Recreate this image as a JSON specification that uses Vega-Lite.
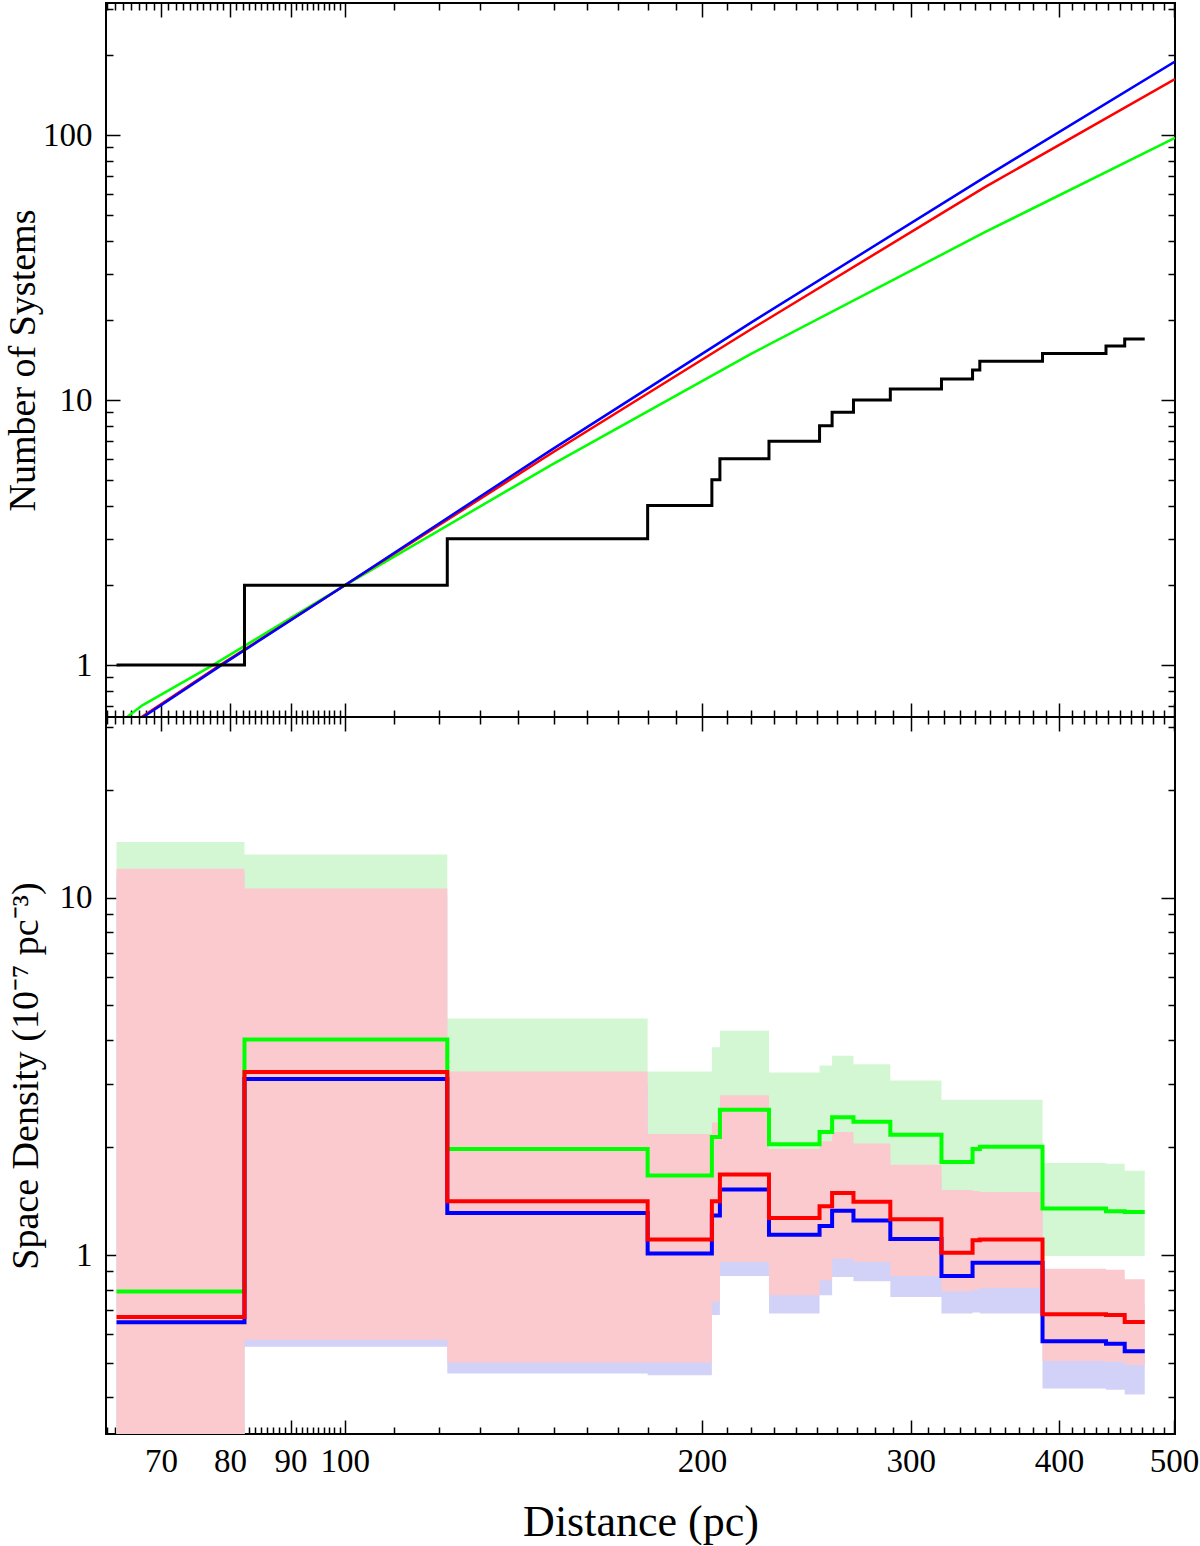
{
  "$schema": "https://vega.github.io/schema/vega-lite/v6.json",
  "background": "white",
  "padding": {"left": 3, "top": 1, "right": 0, "bottom": 0},
  "config": {
    "font": "Liberation Serif",
    "view": {"stroke": "black", "strokeWidth": 2},
    "axis": {
      "domain": false,
      "grid": false,
      "tickColor": "black",
      "tickWidth": 1.5,
      "labelColor": "black",
      "titleColor": "black",
      "labelFont": "Liberation Serif",
      "titleFont": "Liberation Serif",
      "labelFontSize": 33,
      "titleFontSize": 38,
      "titleFontWeight": "normal",
      "labelOverlap": false,
      "labelFlush": false,
      "labelBound": false
    }
  },
  "datasets": {
    "counts": [
      {"d": 64.2, "n": 1}, {"d": 82.3, "n": 2}, {"d": 122.0, "n": 3}, {"d": 180.0, "n": 4},
      {"d": 203.9, "n": 5}, {"d": 207.1, "n": 6}, {"d": 227.8, "n": 7}, {"d": 251.3, "n": 8},
      {"d": 257.5, "n": 9}, {"d": 268.4, "n": 10}, {"d": 288.3, "n": 11}, {"d": 318.4, "n": 12},
      {"d": 338.2, "n": 13}, {"d": 343.0, "n": 14}, {"d": 387.4, "n": 15}, {"d": 438.2, "n": 16},
      {"d": 454.4, "n": 17}, {"d": 472.4, "n": 17}
    ],
    "models": [
      {"m": "green", "d": 65.0, "n": 0.62}, {"m": "green", "d": 67.5, "n": 0.705}, {"m": "green", "d": 77.4, "n": 1.0},
      {"m": "green", "d": 100, "n": 2.0}, {"m": "green", "d": 149.1, "n": 5.67}, {"m": "green", "d": 220, "n": 14.95},
      {"m": "green", "d": 346.4, "n": 43.0}, {"m": "green", "d": 501, "n": 97.6},
      {"m": "red", "d": 66.8, "n": 0.62}, {"m": "red", "d": 78.5, "n": 1.0}, {"m": "red", "d": 100, "n": 2.0},
      {"m": "red", "d": 149.1, "n": 6.27}, {"m": "red", "d": 220, "n": 18.5}, {"m": "red", "d": 346.4, "n": 63.6},
      {"m": "red", "d": 501, "n": 162.5},
      {"m": "blue", "d": 67.0, "n": 0.62}, {"m": "blue", "d": 78.7, "n": 1.0}, {"m": "blue", "d": 100, "n": 2.0},
      {"m": "blue", "d": 149.1, "n": 6.46}, {"m": "blue", "d": 220, "n": 19.6}, {"m": "blue", "d": 346.4, "n": 69.4},
      {"m": "blue", "d": 501, "n": 189.5}
    ],
    "density": [
      {"s": "green", "d": 64.2, "v": 0.791, "lo": 0.1, "hi": 14.3},
      {"s": "green", "d": 82.3, "v": 4.01, "lo": 0.7, "hi": 13.2},
      {"s": "green", "d": 122.0, "v": 1.98, "lo": 0.6, "hi": 4.59},
      {"s": "green", "d": 180.0, "v": 1.67, "lo": 0.6, "hi": 3.26},
      {"s": "green", "d": 203.9, "v": 2.14, "lo": 0.9, "hi": 3.81},
      {"s": "green", "d": 207.1, "v": 2.55, "lo": 1.0, "hi": 4.24},
      {"s": "green", "d": 227.8, "v": 2.04, "lo": 0.9, "hi": 3.24},
      {"s": "green", "d": 251.3, "v": 2.21, "lo": 1.0, "hi": 3.39},
      {"s": "green", "d": 257.5, "v": 2.43, "lo": 1.1, "hi": 3.61},
      {"s": "green", "d": 268.4, "v": 2.36, "lo": 1.1, "hi": 3.42},
      {"s": "green", "d": 288.3, "v": 2.17, "lo": 1.0, "hi": 3.08},
      {"s": "green", "d": 318.4, "v": 1.82, "lo": 0.95, "hi": 2.72},
      {"s": "green", "d": 338.2, "v": 1.98, "lo": 0.95, "hi": 2.72},
      {"s": "green", "d": 343.0, "v": 2.01, "lo": 0.95, "hi": 2.72},
      {"s": "green", "d": 387.4, "v": 1.35, "lo": 0.994, "hi": 1.81},
      {"s": "green", "d": 438.2, "v": 1.325, "lo": 0.994, "hi": 1.80},
      {"s": "green", "d": 454.4, "v": 1.32, "lo": 0.994, "hi": 1.72},
      {"s": "green", "d": 472.4, "v": 1.32, "lo": 0.994, "hi": 1.72},
      {"s": "red", "d": 64.2, "v": 0.671, "lo": 0.1, "hi": 12.04},
      {"s": "red", "d": 82.3, "v": 3.25, "lo": 0.579, "hi": 10.6},
      {"s": "red", "d": 122.0, "v": 1.415, "lo": 0.5, "hi": 3.26},
      {"s": "red", "d": 180.0, "v": 1.106, "lo": 0.5, "hi": 2.18},
      {"s": "red", "d": 203.9, "v": 1.415, "lo": 0.74, "hi": 2.35},
      {"s": "red", "d": 207.1, "v": 1.68, "lo": 0.956, "hi": 2.8},
      {"s": "red", "d": 227.8, "v": 1.27, "lo": 0.772, "hi": 1.98},
      {"s": "red", "d": 251.3, "v": 1.37, "lo": 0.85, "hi": 2.08},
      {"s": "red", "d": 257.5, "v": 1.49, "lo": 0.977, "hi": 2.21},
      {"s": "red", "d": 268.4, "v": 1.41, "lo": 0.956, "hi": 2.05},
      {"s": "red", "d": 288.3, "v": 1.26, "lo": 0.874, "hi": 1.79},
      {"s": "red", "d": 318.4, "v": 1.015, "lo": 0.792, "hi": 1.52},
      {"s": "red", "d": 338.2, "v": 1.099, "lo": 0.8, "hi": 1.51},
      {"s": "red", "d": 343.0, "v": 1.106, "lo": 0.809, "hi": 1.5},
      {"s": "red", "d": 387.4, "v": 0.683, "lo": 0.505, "hi": 0.916},
      {"s": "red", "d": 438.2, "v": 0.68, "lo": 0.503, "hi": 0.91},
      {"s": "red", "d": 454.4, "v": 0.65, "lo": 0.492, "hi": 0.855},
      {"s": "red", "d": 472.4, "v": 0.65, "lo": 0.492, "hi": 0.855},
      {"s": "blue", "d": 64.2, "v": 0.649, "lo": 0.1, "hi": 11.6},
      {"s": "blue", "d": 82.3, "v": 3.11, "lo": 0.554, "hi": 10.2},
      {"s": "blue", "d": 122.0, "v": 1.31, "lo": 0.466, "hi": 3.04},
      {"s": "blue", "d": 180.0, "v": 1.01, "lo": 0.461, "hi": 2.02},
      {"s": "blue", "d": 203.9, "v": 1.29, "lo": 0.679, "hi": 2.2},
      {"s": "blue", "d": 207.1, "v": 1.526, "lo": 0.874, "hi": 2.6},
      {"s": "blue", "d": 227.8, "v": 1.14, "lo": 0.686, "hi": 1.85},
      {"s": "blue", "d": 251.3, "v": 1.205, "lo": 0.772, "hi": 1.95},
      {"s": "blue", "d": 257.5, "v": 1.33, "lo": 0.868, "hi": 2.05},
      {"s": "blue", "d": 268.4, "v": 1.25, "lo": 0.844, "hi": 1.9},
      {"s": "blue", "d": 288.3, "v": 1.108, "lo": 0.763, "hi": 1.65},
      {"s": "blue", "d": 318.4, "v": 0.874, "lo": 0.686, "hi": 1.4},
      {"s": "blue", "d": 338.2, "v": 0.952, "lo": 0.69, "hi": 1.4},
      {"s": "blue", "d": 343.0, "v": 0.952, "lo": 0.686, "hi": 1.4},
      {"s": "blue", "d": 387.4, "v": 0.574, "lo": 0.423, "hi": 0.763},
      {"s": "blue", "d": 438.2, "v": 0.565, "lo": 0.42, "hi": 0.76},
      {"s": "blue", "d": 454.4, "v": 0.538, "lo": 0.407, "hi": 0.73},
      {"s": "blue", "d": 472.4, "v": 0.538, "lo": 0.407, "hi": 0.73}
    ]
  },
  "spacing": 0,
  "bounds": "flush",
  "vconcat": [
    {
      "width": 1069,
      "height": 714,
      "resolve": {"axis": {"x": "independent", "y": "independent"}},
      "layer": [
        {
          "data": {"name": "models"},
          "transform": [{"filter": "datum.m == 'green'"}],
          "mark": {"type": "line", "color": "#00ff00", "strokeWidth": 2.5, "clip": true},
          "encoding": {
            "x": {"field": "d", "type": "quantitative", "scale": {"type": "log", "domain": [62.9, 501], "nice": false},
              "axis": {"orient": "top", "title": null, "labels": false,
                "values": [63,64,65,66,67,68,69,70,71,72,73,74,75,76,77,78,79,80,81,82,83,84,85,86,87,88,89,90,91,92,93,94,95,96,97,98,99,100,110,120,130,140,150,160,170,180,190,200,210,220,230,240,250,260,270,280,290,300,310,320,330,340,350,360,370,380,390,400,410,420,430,440,450,460,470,480,490,500],
                "tickSize": {"condition": {"test": "indexof([70,80,90,100,200,300,400,500], datum.value) >= 0", "value": -14}, "value": -7}}},
            "y": {"field": "n", "type": "quantitative", "scale": {"type": "log", "domain": [0.637, 315], "nice": false},
              "axis": {"orient": "right", "title": null, "labels": false,
                "values": [0.7,0.8,0.9,1,2,3,4,5,6,7,8,9,10,20,30,40,50,60,70,80,90,100,200,300],
                "tickSize": {"condition": {"test": "indexof([1,10,100], datum.value) >= 0", "value": -14}, "value": -7}}}
          }
        },
        {
          "data": {"name": "models"},
          "transform": [{"filter": "datum.m == 'red'"}],
          "mark": {"type": "line", "color": "#ff0000", "strokeWidth": 2.5, "clip": true},
          "encoding": {
            "x": {"field": "d", "type": "quantitative", "scale": {"type": "log", "domain": [62.9, 501], "nice": false}, "axis": null},
            "y": {"field": "n", "type": "quantitative", "scale": {"type": "log", "domain": [0.637, 315], "nice": false}, "axis": null}
          }
        },
        {
          "data": {"name": "models"},
          "transform": [{"filter": "datum.m == 'blue'"}],
          "mark": {"type": "line", "color": "#0000ff", "strokeWidth": 2.5, "clip": true},
          "encoding": {
            "x": {"field": "d", "type": "quantitative", "scale": {"type": "log", "domain": [62.9, 501], "nice": false}, "axis": null},
            "y": {"field": "n", "type": "quantitative", "scale": {"type": "log", "domain": [0.637, 315], "nice": false}, "axis": null}
          }
        },
        {
          "data": {"name": "counts"},
          "mark": {"type": "line", "interpolate": "step-after", "color": "black", "strokeWidth": 3, "clip": true},
          "encoding": {
            "x": {"field": "d", "type": "quantitative", "scale": {"type": "log", "domain": [62.9, 501], "nice": false},
              "axis": {"orient": "bottom", "title": null, "labels": false,
                "values": [63,64,65,66,67,68,69,70,71,72,73,74,75,76,77,78,79,80,81,82,83,84,85,86,87,88,89,90,91,92,93,94,95,96,97,98,99,100,110,120,130,140,150,160,170,180,190,200,210,220,230,240,250,260,270,280,290,300,310,320,330,340,350,360,370,380,390,400,410,420,430,440,450,460,470,480,490,500],
                "tickSize": {"condition": {"test": "indexof([70,80,90,100,200,300,400,500], datum.value) >= 0", "value": -14}, "value": -7}}},
            "y": {"field": "n", "type": "quantitative", "scale": {"type": "log", "domain": [0.637, 315], "nice": false},
              "axis": {"orient": "left", "title": "Number of Systems", "titlePadding": 0,
                "values": [0.7,0.8,0.9,1,2,3,4,5,6,7,8,9,10,20,30,40,50,60,70,80,90,100,200,300],
                "labelExpr": "indexof([1,10,100], datum.value) >= 0 ? format(datum.value, 'd') : ''",
                "labelFontSize": {"condition": {"test": "indexof([1,10,100], datum.value) >= 0", "value": 33}, "value": 0},
                "labelPadding": 28,
                "tickSize": {"condition": {"test": "indexof([1,10,100], datum.value) >= 0", "value": -14}, "value": -7}}}
          }
        }
      ]
    },
    {
      "width": 1069,
      "height": 717,
      "resolve": {"axis": {"x": "independent", "y": "independent"}},
      "layer": [
        {
          "data": {"name": "density"},
          "transform": [{"filter": "datum.s == 'green'"}],
          "mark": {"type": "area", "interpolate": "step-after", "color": "#d3f7d3", "opacity": 1, "clip": true},
          "encoding": {
            "x": {"field": "d", "type": "quantitative", "scale": {"type": "log", "domain": [62.9, 501], "nice": false},
              "axis": {"orient": "top", "title": null, "labels": false,
                "values": [63,64,65,66,67,68,69,70,71,72,73,74,75,76,77,78,79,80,81,82,83,84,85,86,87,88,89,90,91,92,93,94,95,96,97,98,99,100,110,120,130,140,150,160,170,180,190,200,210,220,230,240,250,260,270,280,290,300,310,320,330,340,350,360,370,380,390,400,410,420,430,440,450,460,470,480,490,500],
                "tickSize": {"condition": {"test": "indexof([70,80,90,100,200,300,400,500], datum.value) >= 0", "value": -14}, "value": -7}}},
            "y": {"field": "hi", "type": "quantitative", "scale": {"type": "log", "domain": [0.3157, 32.0], "nice": false},
              "axis": {"orient": "right", "title": null, "labels": false,
                "values": [0.4,0.5,0.6,0.7,0.8,0.9,1,2,3,4,5,6,7,8,9,10,20,30],
                "tickSize": {"condition": {"test": "indexof([1,10], datum.value) >= 0", "value": -14}, "value": -7}}},
            "y2": {"field": "lo"}
          }
        },
        {
          "data": {"name": "density"},
          "transform": [{"filter": "datum.s == 'blue'"}],
          "mark": {"type": "area", "interpolate": "step-after", "color": "#d2d2f8", "opacity": 1, "clip": true},
          "encoding": {
            "x": {"field": "d", "type": "quantitative", "scale": {"type": "log", "domain": [62.9, 501], "nice": false}, "axis": null},
            "y": {"field": "hi", "type": "quantitative", "scale": {"type": "log", "domain": [0.3157, 32.0], "nice": false}, "axis": null},
            "y2": {"field": "lo"}
          }
        },
        {
          "data": {"name": "density"},
          "transform": [{"filter": "datum.s == 'red'"}],
          "mark": {"type": "area", "interpolate": "step-after", "color": "#fbcace", "opacity": 1, "clip": true},
          "encoding": {
            "x": {"field": "d", "type": "quantitative", "scale": {"type": "log", "domain": [62.9, 501], "nice": false}, "axis": null},
            "y": {"field": "hi", "type": "quantitative", "scale": {"type": "log", "domain": [0.3157, 32.0], "nice": false}, "axis": null},
            "y2": {"field": "lo"}
          }
        },
        {
          "data": {"name": "density"},
          "transform": [{"filter": "datum.s == 'green'"}],
          "mark": {"type": "line", "interpolate": "step-after", "color": "#00ff00", "strokeWidth": 4, "clip": true},
          "encoding": {
            "x": {"field": "d", "type": "quantitative", "scale": {"type": "log", "domain": [62.9, 501], "nice": false}, "axis": null},
            "y": {"field": "v", "type": "quantitative", "scale": {"type": "log", "domain": [0.3157, 32.0], "nice": false}, "axis": null}
          }
        },
        {
          "data": {"name": "density"},
          "transform": [{"filter": "datum.s == 'blue'"}],
          "mark": {"type": "line", "interpolate": "step-after", "color": "#0000ff", "strokeWidth": 4, "clip": true},
          "encoding": {
            "x": {"field": "d", "type": "quantitative", "scale": {"type": "log", "domain": [62.9, 501], "nice": false}, "axis": null},
            "y": {"field": "v", "type": "quantitative", "scale": {"type": "log", "domain": [0.3157, 32.0], "nice": false}, "axis": null}
          }
        },
        {
          "data": {"name": "density"},
          "transform": [{"filter": "datum.s == 'red'"}],
          "mark": {"type": "line", "interpolate": "step-after", "color": "#ff0000", "strokeWidth": 4, "clip": true},
          "encoding": {
            "x": {"field": "d", "type": "quantitative", "scale": {"type": "log", "domain": [62.9, 501], "nice": false},
              "axis": {"orient": "bottom", "title": "Distance (pc)", "titleFontSize": 44, "titlePadding": 22,
                "values": [63,64,65,66,67,68,69,70,71,72,73,74,75,76,77,78,79,80,81,82,83,84,85,86,87,88,89,90,91,92,93,94,95,96,97,98,99,100,110,120,130,140,150,160,170,180,190,200,210,220,230,240,250,260,270,280,290,300,310,320,330,340,350,360,370,380,390,400,410,420,430,440,450,460,470,480,490,500],
                "labelExpr": "indexof([70,80,90,100,200,300,400,500], datum.value) >= 0 ? format(datum.value, 'd') : ''",
                "labelFontSize": {"condition": {"test": "indexof([70,80,90,100,200,300,400,500], datum.value) >= 0", "value": 33}, "value": 0},
                "labelPadding": 25,
                "tickSize": {"condition": {"test": "indexof([70,80,90,100,200,300,400,500], datum.value) >= 0", "value": -14}, "value": -7}}},
            "y": {"field": "v", "type": "quantitative", "scale": {"type": "log", "domain": [0.3157, 32.0], "nice": false},
              "axis": {"orient": "left", "title": "Space Density (10⁻⁷ pc⁻³)", "titlePadding": 14,
                "values": [0.4,0.5,0.6,0.7,0.8,0.9,1,2,3,4,5,6,7,8,9,10,20,30],
                "labelExpr": "indexof([1,10], datum.value) >= 0 ? format(datum.value, 'd') : ''",
                "labelFontSize": {"condition": {"test": "indexof([1,10], datum.value) >= 0", "value": 33}, "value": 0},
                "labelPadding": 28,
                "tickSize": {"condition": {"test": "indexof([1,10], datum.value) >= 0", "value": -14}, "value": -7}}}
          }
        }
      ]
    }
  ]
}
